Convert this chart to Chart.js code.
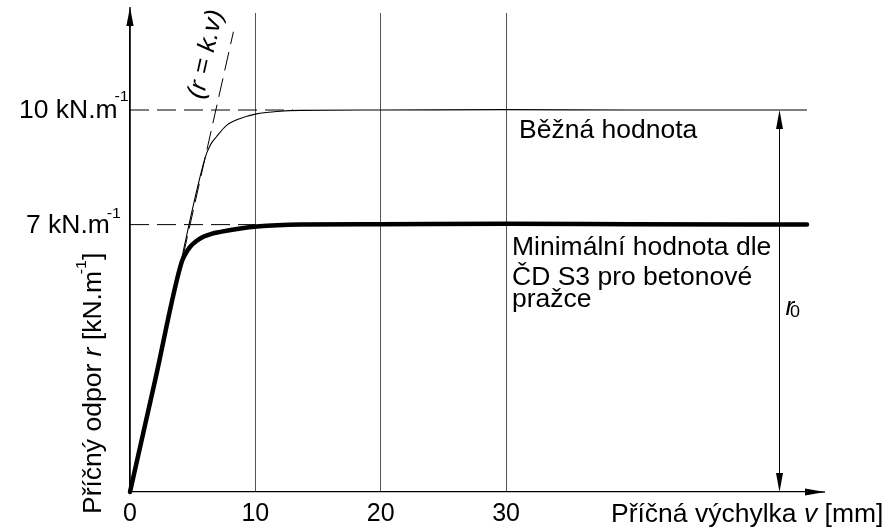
<!DOCTYPE html>
<html lang="cs">
<head>
<meta charset="utf-8">
<title>Příčný odpor</title>
<script src="https://cdn.jsdelivr.net/npm/chart.js@4.4.1/dist/chart.umd.min.js"></script>
<style>
  html, body { margin: 0; padding: 0; background: #fff; }
</style>
</head>
<body>
<canvas id="chart" width="895" height="527"></canvas>
<script>
// v = příčná výchylka [mm], r = příčný odpor [kN/m]
const vMin = [0, 2, 4.1, 4.4, 4.8, 5.3, 5.85, 6.5, 7.2, 8.8, 10.1, 13.6, 20, 30, 40, 54];
const rMin = [0, 2.92, 6.0, 6.22, 6.42, 6.57, 6.68, 6.76, 6.81, 6.9, 6.95, 7.0, 7.01, 7.02, 7.01, 7.0];
const vTyp = [0, 3, 6.0, 6.4, 6.9, 7.7, 8.8, 10.1, 11.7, 13.6, 20, 30, 40, 54];
const rTyp = [0, 4.38, 8.76, 9.08, 9.3, 9.6, 9.78, 9.9, 9.96, 9.99, 10, 10.01, 10, 10];
const vLin = [0, 8.25];          // r = k.v
const rLin = [0, 12.05];
const levels = [10, 7];          // kN/m
const levelEnds = [13, 10];      // where the dashed guide stops [mm]
const levelLabels = ['10 kN.m', '7 kN.m'];
const xTicks = [0, 10, 20, 30];
const dimV = 51.8;               // r0 dimension line position [mm]

const toPts = (xs, ys) => xs.map((x, i) => ({ x: x, y: ys[i] }));
const FONT = '"Liberation Sans", Arial, sans-serif';
const SX = 1.06; // the drawing uses a slightly wide lettering
const FS = 25;

// draw a row of text pieces (normal / italic / raised), optionally rotated
function textRuns(ctx, parts, x, y, angle) {
  ctx.save();
  ctx.translate(x, y);
  ctx.rotate(angle || 0);
  ctx.scale(SX, 1);
  ctx.fillStyle = '#000';
  ctx.textBaseline = 'alphabetic';
  ctx.textAlign = 'left';
  let cx = 0;
  parts.forEach(p => {
    ctx.font = (p.it ? 'italic ' : '') + (p.size || FS) + 'px ' + FONT;
    cx += p.dx || 0;
    ctx.fillText(p.t, cx, -(p.dy || 0));
    cx += ctx.measureText(p.t).width;
  });
  ctx.restore();
}

function arrow(ctx, tx, ty, dx, dy, len, half) {
  ctx.beginPath();
  ctx.moveTo(tx, ty);
  ctx.lineTo(tx - dx * len - dy * half, ty - dy * len + dx * half);
  ctx.lineTo(tx - dx * len + dy * half, ty - dy * len - dx * half);
  ctx.closePath();
  ctx.fill();
}

const extras = {
  id: 'extras',
  afterDraw(chart) {
    const ctx = chart.ctx;
    const xs = chart.scales.x, ys = chart.scales.y;
    const a = chart.chartArea;
    ctx.save();
    ctx.fillStyle = '#000';
    ctx.strokeStyle = '#000';

    // axis arrows
    arrow(ctx, a.left, 7, 0, -1, 19, 3.6);
    ctx.fillRect(a.left - 0.65, 7, 1.3, 20);
    ctx.fillRect(a.right - 2, a.bottom - 0.65, 20, 1.3);
    arrow(ctx, a.right + 18, a.bottom, 1, 0, 20, 3.6);

    // r0 dimension
    const dx = Math.round(xs.getPixelForValue(dimV)) + 0.5;
    const y10 = ys.getPixelForValue(levels[0]);
    const y0 = ys.getPixelForValue(0);
    ctx.lineWidth = 1;
    ctx.beginPath();
    ctx.moveTo(dx, y10 + 10);
    ctx.lineTo(dx, y0 - 10);
    ctx.stroke();
    arrow(ctx, dx, y10, 0, -1, 19, 3.5);
    arrow(ctx, dx, y0, 0, 1, 19, 3.5);
    textRuns(ctx, [{ t: 'r', it: true }, { t: '0', size: 17, dx: -4, dy: -2 }], dx + 6, 315);

    // level labels
    levels.forEach((lv, i) => {
      const py = ys.getPixelForValue(lv);
      const lx = i === 0 ? 19 : 26;
      textRuns(ctx, [{ t: levelLabels[i] }, { t: '-1', size: 15, dy: i === 0 ? 17 : 15, dx: -3 }], lx, py + 8);
    });

    // r = k.v label along the line
    const p0x = xs.getPixelForValue(vLin[0]), p0y = ys.getPixelForValue(rLin[0]);
    const p1x = xs.getPixelForValue(vLin[1]), p1y = ys.getPixelForValue(rLin[1]);
    const ang = Math.atan2(p1y - p0y, p1x - p0x);
    textRuns(ctx, [{ t: '(r = k.v)', it: true }], 203, 100, ang);

    // curve labels
    textRuns(ctx, [{ t: 'Běžná hodnota' }], 519, 138);
    textRuns(ctx, [{ t: 'Minimální hodnota dle' }], 512, 255);
    textRuns(ctx, [{ t: 'ČD S3 pro betonové' }], 512, 285);
    textRuns(ctx, [{ t: 'pražce' }], 512, 307);

    // axis titles
    textRuns(ctx, [{ t: 'Příčná výchylka ' }, { t: 'v', it: true }, { t: ' [mm]' }], 611, 522);
    textRuns(ctx, [{ t: 'Příčný odpor ' }, { t: 'r', it: true }, { t: ' [kN.m' },
                   { t: '-1', size: 15, dy: 15, dx: -3 }, { t: ']' }], 101, 514, -Math.PI / 2);
    ctx.restore();
  }
};

const dash = [19, 8];
new Chart(document.getElementById('chart'), {
  type: 'line',
  data: {
    datasets: [
      { data: toPts(vLin, rLin), borderColor: '#000', borderWidth: 1, borderDash: dash },
      ...levels.map((lv, i) => ({
        data: [{ x: 0, y: lv }, { x: levelEnds[i], y: lv }],
        borderColor: '#000', borderWidth: 1, borderDash: dash
      })),
      { data: toPts(vTyp, rTyp), borderColor: '#000', borderWidth: 1.1, cubicInterpolationMode: 'monotone' },
      { data: toPts(vMin, rMin), borderColor: '#000', borderWidth: 4.5, cubicInterpolationMode: 'monotone',
        borderCapStyle: 'round', clip: false }
    ]
  },
  options: {
    responsive: false,
    animation: false,
    layout: { padding: { top: 13, right: 88, left: 0, bottom: 0 } },
    plugins: { legend: { display: false }, tooltip: { enabled: false } },
    elements: { point: { radius: 0 }, line: { fill: false } },
    scales: {
      x: {
        type: 'linear', min: 0, max: 54,
        afterBuildTicks: s => { s.ticks = xTicks.map(v => ({ value: v })); },
        afterFit: s => { s.height = 35; },
        grid: { color: '#555', lineWidth: 1, drawTicks: false },
        border: { color: '#000', width: 1.3 },
        ticks: { color: '#000', font: { family: FONT, size: 25 }, padding: 7, maxRotation: 0, autoSkip: false }
      },
      y: {
        type: 'linear', min: 0, max: 12.54,
        afterFit: s => { s.width = 130; },
        grid: { display: false, drawTicks: false },
        border: { color: '#000', width: 1.3 },
        ticks: { display: false }
      }
    }
  },
  plugins: [extras]
});
</script>
</body>
</html>
